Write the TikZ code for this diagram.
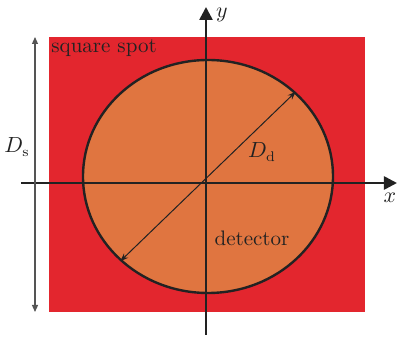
\documentclass[tikz,border=0pt]{standalone}
\usepackage{tikz}
\usetikzlibrary{arrows.meta, positioning, shapes.geometric}
\definecolor{rojo}{HTML}{E3262E}
\definecolor{naranja}{HTML}{E07540}
\definecolor{oscuro}{HTML}{222222}
\definecolor{gris}{HTML}{555555}
\tikzset{
  spotbox/.style={fill=rojo, draw=none, inner sep=0pt,
              minimum width=158pt, minimum height=137.5pt},
  detbox/.style={ellipse, fill=naranja, draw=oscuro, line width=1.2pt, inner sep=0pt,
              minimum width=125pt, minimum height=116.5pt},
  eje/.style={-{Triangle[length=6.5pt, width=6.5pt]}, line width=1.3pt, oscuro},
  cota/.style={{Triangle[length=3.5pt, width=3pt]}-{Triangle[length=3.5pt, width=3pt]}, line width=0.6pt, gris},
  diam/.style={{Stealth[length=4pt]}-{Stealth[length=4pt]}, line width=0.5pt, oscuro},
  etiq/.style={text=oscuro, inner sep=0pt, font=\fontsize{10.5}{12}\selectfont},
}

\begin{document}
\begin{tikzpicture}[x=0.5pt, y=0.5pt]
  \useasboundingbox (0,0) rectangle (398,338);
  \node[spotbox] (spot) at (207,163.5) {};
  \node[detbox] (det) at (208,161.5) {};
  \coordinate (xl) at (21,155);
  \coordinate (xr) at (397,155);
  \coordinate (yb) at (206,3);
  \coordinate (yt) at (206,331);
  \draw[eje] (xl) -- (xr);
  \draw[eje] (yb) -- (yt);
  \node[etiq] (xlab) at (390,140) {$x$};
  \node[etiq] (ylab) at (222,323) {$y$};
  \draw[diam] (det.-136) -- (det.44);
  \coordinate (ds1) at (35,301);
  \coordinate (ds2) at (35,26);
  \draw[cota] (ds1) -- (ds2);
  \node[etiq] (dslab) at (17,191) {$D_{\mathrm{s}}$};
  \node[etiq] (ddlab) at (262,186) {$D_{\mathrm{d}}$};
  \node[etiq, anchor=west] (spotlab) at (51,290) {square spot};
  \node[etiq] (detlab) at (252,100) {detector};
\end{tikzpicture}
\end{document}
